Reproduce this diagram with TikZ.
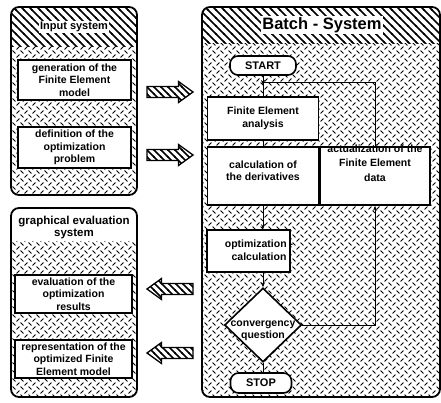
\documentclass[tikz,border=0pt]{standalone}
\usepackage{fontspec}
\setmainfont{Liberation Sans}
\usetikzlibrary{shapes.geometric,patterns,arrows.meta,calc}

\pgfdeclarepatternformonly{xdash}{\pgfqpoint{-1pt}{-1pt}}{\pgfqpoint{9pt}{9pt}}{\pgfqpoint{8pt}{8pt}}{%
  \pgfsetlinewidth{1pt}%
  \pgfpathmoveto{\pgfqpoint{0.6pt}{0.6pt}}\pgfpathlineto{\pgfqpoint{3.4pt}{3.4pt}}%
  \pgfpathmoveto{\pgfqpoint{4.6pt}{7.4pt}}\pgfpathlineto{\pgfqpoint{7.4pt}{4.6pt}}%
  \pgfusepath{stroke}}
\pgfdeclarepatternformonly{hatchnw}{\pgfqpoint{-1pt}{-1pt}}{\pgfqpoint{9pt}{9pt}}{\pgfqpoint{8pt}{8pt}}{%
  \pgfsetlinewidth{1.6pt}%
  \pgfpathmoveto{\pgfqpoint{-1pt}{9pt}}\pgfpathlineto{\pgfqpoint{9pt}{-1pt}}%
  \pgfusepath{stroke}}
\pgfdeclarepatternformonly{hatcharr}{\pgfqpoint{-1pt}{-1pt}}{\pgfqpoint{8pt}{8pt}}{\pgfqpoint{7pt}{7pt}}{%
  \pgfsetlinewidth{1.5pt}%
  \pgfpathmoveto{\pgfqpoint{-1pt}{8pt}}\pgfpathlineto{\pgfqpoint{8pt}{-1pt}}%
  \pgfusepath{stroke}}

\newcommand\bxfont{\fontsize{10.5}{12.5}\selectfont\bfseries}

\begin{document}
\begin{tikzpicture}[x=1pt,y=-1pt,
  panelline/.style={line width=1.8pt, rounded corners=8pt},
  box/.style={draw, line width=1.6pt, fill=white, inner sep=1pt, align=center, font=\bxfont},
  txt/.style={inner sep=0pt, align=center, font=\bxfont},
  term/.style={draw, line width=1.6pt, fill=white, rounded corners=8pt, inner sep=0pt, font=\fontsize{11}{13}\selectfont\bfseries},
  hdr/.style={fill=white, inner sep=1.5pt, align=center, font=\fontsize{11}{12}\selectfont\bfseries},
  conn/.style={line width=1pt},
  tip/.style={-{Stealth[length=5pt,width=4pt]}},
  bigarr/.style={draw, line width=1.3pt, pattern=hatcharr, line join=miter},
  rarrow/.pic={\draw[bigarr] (-23,-5.5) -- (8.5,-5.5) -- (8.5,-10.5) -- (23,0) -- (8.5,10.5) -- (8.5,5.5) -- (-23,5.5) -- cycle;}]
\useasboundingbox (0,0) rectangle (441,402);

% ---------- Input system panel
\fill[pattern=xdash, rounded corners=8pt] (11,7) rectangle (137,195);
\begin{scope}
  \clip[rounded corners=8pt] (11,7) rectangle (137,195);
  \fill[white] (11,7) rectangle (137,46);
  \fill[pattern=hatchnw] (11,7) rectangle (137,46);
\end{scope}
\draw[panelline] (11,7) rectangle (137,195);
\node[hdr] (inph) at (74,27) {Input system};
\node[box, minimum width=113pt, minimum height=40pt] (gen) at (74.5,80) {generation of the\\Finite Element\\model};
\node[box, minimum width=113pt, minimum height=41pt] (def) at (74.5,147.5) {definition of the\\optimization\\problem};

% ---------- graphical evaluation panel
\fill[pattern=xdash, rounded corners=8pt] (11,208) rectangle (137,397);
\begin{scope}
  \clip[rounded corners=8pt] (11,208) rectangle (137,397);
  \fill[white] (11,208) rectangle (137,241);
\end{scope}
\draw[panelline] (11,208) rectangle (137,397);
\node[hdr, font=\fontsize{11.5}{12}\selectfont\bfseries] (evh) at (74,227.5) {graphical evaluation\\system};
\node[box, minimum width=117pt, minimum height=38pt] (evl) at (73.5,294) {evaluation of the\\optimization\\results};
\node[box, minimum width=117pt, minimum height=38pt] (rep) at (73.5,359) {representation of the\\optimized Finite\\Element model};

% ---------- Batch system panel
\fill[pattern=xdash, rounded corners=8pt] (202,7) rectangle (440,397);
\begin{scope}
  \clip[rounded corners=8pt] (202,7) rectangle (440,397);
  \fill[white] (202,7) rectangle (440,43);
  \fill[pattern=hatchnw] (202,7) rectangle (440,43);
\end{scope}
\draw[panelline] (202,7) rectangle (440,397);
\node[hdr, font=\fontsize{16.5}{18}\selectfont\bfseries] (bath) at (322,25) {Batch - System};

\node[term, minimum width=66pt, minimum height=19pt] (start) at (263,65.5) {START};
\node[box, minimum width=111pt, minimum height=43pt] (fea) at (263,118.5) {Finite Element\\analysis};
\node[box, minimum width=111pt, minimum height=58pt] (der) at (263,176) {};
\node[txt] (dert) at (263,170.5) {calculation of\\the derivatives};
\node[box, minimum width=110pt, minimum height=58pt] (act) at (375,176) {};
\node[txt, font=\fontsize{10.5}{14.5}\selectfont\bfseries] (actt) at (375,163) {actualization of the\\Finite Element\\data};
\node[box, minimum width=83pt, minimum height=42pt] (opt) at (248.5,251) {};
\node[txt] (optt) at (259,250) {optimization -\\calculation};
\node[diamond, draw, line width=1.6pt, fill=white, inner sep=0pt, minimum width=77pt, minimum height=74pt] (conv) at (263,325) {};
\node[txt] (convt) at (263,331) {convergency\\question};
\node[term, minimum width=61pt, minimum height=20pt] (stop) at (261,383) {STOP};

% connectors
\coordinate (j1) at (263,82);
\draw[conn] (start.south) -- (start.south |- fea.north);
\draw[conn,tip] (start.south) -- ($(j1)+(0,3)$);
\draw[conn] (act.north) -- (act.north |- j1) -- (j1);
\draw[conn] (fea.south) -- (der.north);
\draw[conn,tip] (der.south) -- (der.south |- opt.north);
\draw[conn,tip] (conv.north |- opt.south) -- (conv.north);
\draw[conn] (conv.south) -- (conv.south |- stop.north);
\draw[conn,tip] (conv.east) -| (act.south);

% big hatched arrows
\pic (ar1) at (170,92) {rarrow};
\pic (ar2) at (170,155) {rarrow};
\pic[rotate=180] (al1) at (170,289) {rarrow};
\pic[rotate=180] (al2) at (170,353) {rarrow};
\end{tikzpicture}
\end{document}
